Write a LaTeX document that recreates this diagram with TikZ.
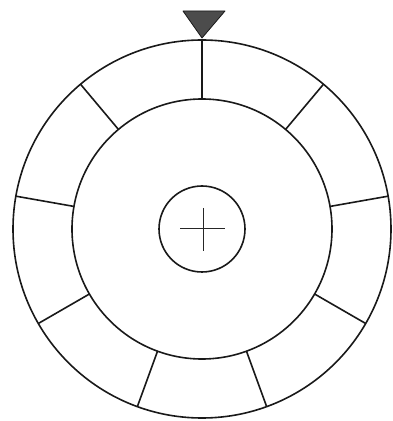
\documentclass[tikz,border=0pt]{standalone}
\usetikzlibrary{calc}
\begin{document}
\begin{tikzpicture}[x=1pt,y=1pt,
  ring/.style={draw=black!90,line width=1.6pt},
  spoke/.style={draw=black!90,line width=1.6pt},
  crossline/.style={draw=black!85,line width=1.0pt},
  pointer/.style={draw=black!90,fill=black!70,line width=0.8pt,line join=round}]
\useasboundingbox (0,0) rectangle (393,421);
\coordinate (c) at (202,192);
\draw[ring] (c) circle[radius=189];
\draw[ring] (c) circle[radius=130];
\draw[ring] (c) circle[radius=43];
\draw[crossline] ($(c)+(-22,0)$) -- ($(c)+(23,0)$);
\draw[crossline] ($(c)+(1,21)$) -- ($(c)+(1,-22)$);
\foreach \a in {90,130,...,410}{
  \draw[spoke] ($(c)+(\a:130)$) -- ($(c)+(\a:189)$);
}
\coordinate (tl) at (183,410);
\coordinate (tr) at (225,410);
\coordinate (tip) at (202,383);
\draw[pointer] (tl) -- (tr) -- (tip) -- cycle;
\end{tikzpicture}
\end{document}
